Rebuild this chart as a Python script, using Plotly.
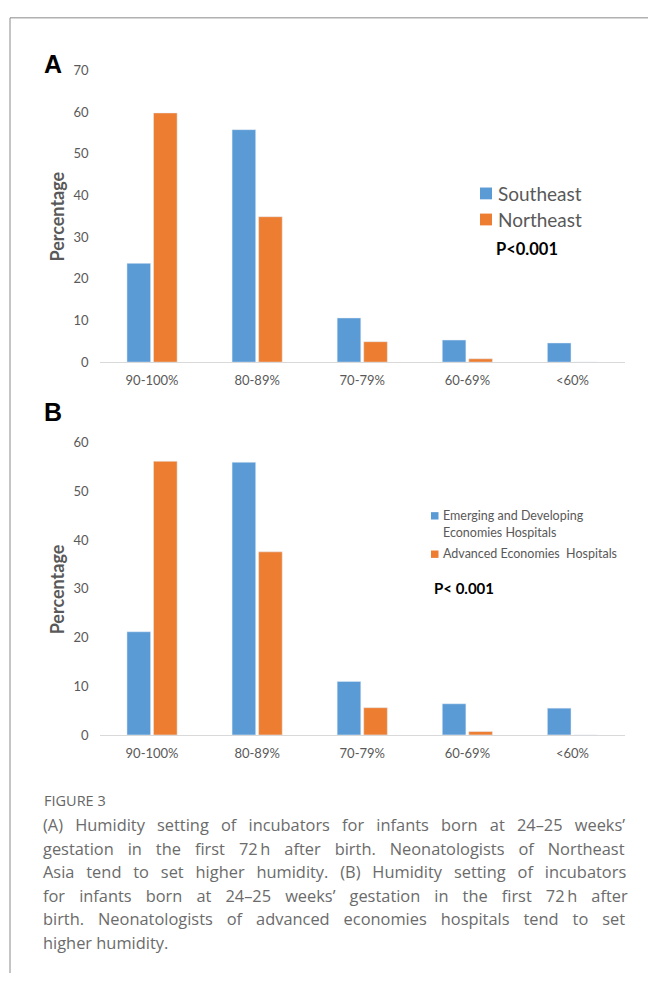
import plotly.graph_objects as go

# Humidity bands and survey percentages
categories = ["90-100%", "80-89%", "70-79%", "60-69%", "<60%"]

southeast = [23.7, 55.8, 10.6, 5.3, 4.6]
northeast = [59.8, 34.9, 4.9, 0.8, 0.0]

emerging = [21.2, 56.0, 11.0, 6.4, 5.5]
advanced = [56.2, 37.6, 5.6, 0.7, 0.0]

ticks_a = [0, 10, 20, 30, 40, 50, 60, 70]
ticks_b = [0, 10, 20, 30, 40, 50, 60]

caption_lines = [
    "(A) Humidity setting of incubators for infants born at 24\u201325 weeks\u2019",
    "gestation in the first 72\u2009h after birth. Neonatologists of Northeast",
    "Asia tend to set higher humidity. (B) Humidity setting of incubators",
    "for infants born at 24\u201325 weeks\u2019 gestation in the first 72\u2009h after",
    "birth. Neonatologists of advanced economies hospitals tend to set",
    "higher humidity.",
]
# extra inter-word spacing (px) so the justified lines fill the column
caption_spacing = [7.9, 9.7, 7.6, 9.8, 9.7, 0]

BLUE = "#5B9BD5"
ORANGE = "#ED7D31"
GREY = "#595959"
W, H = 648, 981


def px(x):
    return x / W


def py(y):
    return 1 - y / H


fig = go.Figure()
fig.add_bar(x=categories, y=southeast, name="Southeast", marker_color=BLUE,
            xaxis="x", yaxis="y", showlegend=False)
fig.add_bar(x=categories, y=northeast, name="Northeast", marker_color=ORANGE,
            xaxis="x", yaxis="y", showlegend=False)
fig.add_bar(x=categories, y=emerging, name="Emerging and Developing Economies Hospitals",
            marker_color=BLUE, xaxis="x2", yaxis="y2", showlegend=False)
fig.add_bar(x=categories, y=advanced, name="Advanced Economies Hospitals",
            marker_color=ORANGE, xaxis="x2", yaxis="y2", showlegend=False)

tick_font = dict(family="Lato", size=13, color=GREY)
xcommon = dict(domain=[px(99.5), px(625)], showline=True, linecolor="#d9d9d9",
               linewidth=1, showgrid=False, ticks="", tickfont=tick_font,
               ticklabelstandoff=6, fixedrange=True)
ycommon = dict(showgrid=False, zeroline=False, showline=False, ticks="",
               tickfont=tick_font, ticklabelstandoff=10, fixedrange=True)

fig.update_layout(
    width=W, height=H, margin=dict(l=0, r=0, t=0, b=0),
    paper_bgcolor="white", plot_bgcolor="white",
    barmode="group", bargap=0.495, bargroupgap=0.11,
    xaxis=dict(**xcommon, anchor="y"),
    yaxis=dict(**ycommon, anchor="x", domain=[py(360), py(63.5)], range=[0, 70],
               tickvals=ticks_a),
    xaxis2=dict(**xcommon, anchor="y2"),
    yaxis2=dict(**ycommon, anchor="x2", domain=[py(739), py(442)], range=[0, 60],
                tickvals=ticks_b),
)

shapes = [
    # frame lines
    dict(type="line", xref="paper", yref="paper", x0=px(10), x1=px(10), y0=py(10), y1=0,
         line=dict(color="#8a8a8a", width=1)),
    dict(type="line", xref="paper", yref="paper", x0=px(10), x1=1, y0=py(10), y1=py(10),
         line=dict(color="#8a8a8a", width=1)),
    # legend keys, panel A
    dict(type="rect", xref="paper", yref="paper", x0=px(480), x1=px(492), y0=py(194.5), y1=py(182.5),
         fillcolor=BLUE, line_width=0),
    dict(type="rect", xref="paper", yref="paper", x0=px(480), x1=px(492), y0=py(221), y1=py(209),
         fillcolor=ORANGE, line_width=0),
    # legend keys, panel B
    dict(type="rect", xref="paper", yref="paper", x0=px(431), x1=px(438.5), y0=py(520), y1=py(512.5),
         fillcolor=BLUE, line_width=0),
    dict(type="rect", xref="paper", yref="paper", x0=px(431), x1=px(438.5), y0=py(559), y1=py(551.5),
         fillcolor=ORANGE, line_width=0),
]

ann = []


def label(text, x, y, size, color=GREY, bold=False, family="Lato", xanchor="left", angle=0):
    t = f"<b>{text}</b>" if bold else text
    ann.append(dict(text=t, x=px(x), y=py(y), xref="paper", yref="paper", showarrow=False,
                    xanchor=xanchor, yanchor="middle", textangle=angle,
                    font=dict(family=family, size=size, color=color)))


# panel letters
label("A", 42, 57, 25, color="black", bold=True, family="Liberation Sans")
label("B", 42, 411, 25, color="black", bold=True, family="Liberation Sans")

# axis titles
label("Percentage", 57, 212, 18, bold=True, xanchor="center", angle=-90)
label("Percentage", 57, 591, 18, bold=True, xanchor="center", angle=-90)

# legend A
label("Southeast", 496, 188.5, 19)
label("Northeast", 496, 215, 19)
label("P&lt;0.001", 494, 245, 16.5, color="black", bold=True)

# legend B
label("Emerging and Developing", 441, 516, 12.5)
label("Economies Hospitals", 441, 533, 12.5)
label("Advanced Economies\u00a0 Hospitals", 441, 555, 12.5)
label("P&lt; 0.001", 432, 590, 15, color="black", bold=True)

# caption
label("FIGURE 3", 42, 806, 14.5, color="#666666", family="Open Sans")
for i, (line, sp) in enumerate(zip(caption_lines, caption_spacing)):
    styled = f'<span style="word-spacing:{sp}px">{line}</span>' if sp else line
    label(styled, 41, 830 + 24 * i, 16.4, color="#6b6b6b", family="Open Sans")

fig.update_layout(shapes=shapes, annotations=ann)
fig.write_html("out.html")
